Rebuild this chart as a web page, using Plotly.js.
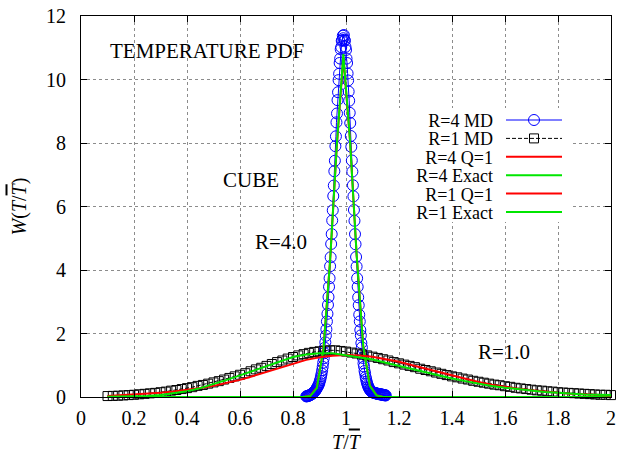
<!DOCTYPE html>
<html>
<head>
<meta charset="utf-8">
<script src="https://cdn.plot.ly/plotly-3.0.1.min.js"></script>
<style>
  html, body { margin: 0; padding: 0; background: #fff; }
  #chart text { font-family: 'Liberation Serif', 'Times New Roman', serif !important; }
</style>
</head>
<body>
<div id="chart"></div>
<script>
// ---------------- data ----------------
// R=4 MD (blue open circles)
const r4mdX = [
  0.850,0.852,0.854,0.856,0.858,0.860,0.862,0.864,0.866,0.868,
  0.870,0.872,0.874,0.876,0.878,0.880,0.882,0.884,0.886,0.888,
  0.890,0.892,0.894,0.896,0.898,0.900,0.902,0.904,0.906,0.908,
  0.910,0.912,0.914,0.916,0.918,0.920,0.922,0.924,0.926,0.928,
  0.930,0.932,0.934,0.936,0.938,0.940,0.942,0.944,0.946,0.948,
  0.950,0.952,0.954,0.956,0.958,0.960,0.962,0.964,0.966,0.968,
  0.970,0.972,0.974,0.976,0.978,0.980,0.982,0.984,0.986,0.988,
  0.990,0.992,0.994,0.996,0.998,1.000,1.002,1.004,1.006,1.008,
  1.010,1.012,1.014,1.016,1.018,1.020,1.022,1.024,1.026,1.028,
  1.030,1.032,1.034,1.036,1.038,1.040,1.042,1.044,1.046,1.048,
  1.050,1.052,1.054,1.056,1.058,1.060,1.062,1.064,1.066,1.068,
  1.070,1.072,1.074,1.076,1.078,1.080,1.082,1.084,1.086,1.088,
  1.090,1.092,1.094,1.096,1.098,1.100,1.102,1.104,1.106,1.108,
  1.110,1.112,1.114,1.116,1.118,1.120,1.122,1.124,1.126,1.128,
  1.130,1.132,1.134,1.136,1.138,1.140,1.142,1.144,1.146,1.148,
  1.150
];
const r4mdY = [
  0.02,0.02,0.03,0.03,0.04,0.04,0.05,0.06,0.07,0.08,
  0.09,0.10,0.11,0.13,0.14,0.16,0.18,0.20,0.22,0.25,
  0.28,0.31,0.34,0.37,0.41,0.46,0.52,0.58,0.66,0.74,
  0.84,0.95,1.08,1.22,1.38,1.55,1.72,1.93,2.13,2.38,
  2.62,2.90,3.15,3.47,3.74,4.12,4.40,4.82,5.13,5.56,
  5.88,6.33,6.66,7.11,7.44,7.90,8.21,8.65,8.93,9.35,
  9.60,9.98,10.18,10.52,10.66,10.95,11.02,11.22,11.24,11.38,
  11.30,11.40,11.25,11.22,11.03,10.93,10.66,10.52,10.19,9.97,
  9.62,9.33,8.95,8.63,8.22,7.88,7.45,7.10,6.67,6.32,
  5.89,5.55,5.13,4.81,4.41,4.11,3.74,3.47,3.14,2.89,
  2.59,2.38,2.11,1.94,1.70,1.56,1.36,1.23,1.06,0.96,
  0.82,0.74,0.63,0.56,0.48,0.43,0.37,0.33,0.29,0.26,
  0.23,0.21,0.19,0.17,0.16,0.15,0.14,0.14,0.13,0.13,
  0.12,0.12,0.11,0.11,0.10,0.10,0.10,0.09,0.09,0.09,
  0.08,0.08,0.08,0.07,0.07,0.07,0.06,0.06,0.06,0.05,
  0.05
];

// R=1 MD (black open squares)
const r1mdX = [
  0.10,0.12,0.14,0.16,0.18,0.20,0.22,0.24,0.26,0.28,
  0.30,0.32,0.34,0.36,0.38,0.40,0.42,0.44,0.46,0.48,
  0.50,0.52,0.54,0.56,0.58,0.60,0.62,0.64,0.66,0.68,
  0.70,0.72,0.74,0.76,0.78,0.80,0.82,0.84,0.86,0.88,
  0.90,0.92,0.94,0.96,0.98,1.00,1.02,1.04,1.06,1.08,
  1.10,1.12,1.14,1.16,1.18,1.20,1.22,1.24,1.26,1.28,
  1.30,1.32,1.34,1.36,1.38,1.40,1.42,1.44,1.46,1.48,
  1.50,1.52,1.54,1.56,1.58,1.60,1.62,1.64,1.66,1.68,
  1.70,1.72,1.74,1.76,1.78,1.80,1.82,1.84,1.86,1.88,
  1.90,1.92,1.94,1.96,1.98,2.00
];
const r1mdY = [
  0.03,0.035,0.04,0.05,0.06,0.07,0.085,0.10,0.115,0.13,
  0.15,0.17,0.20,0.22,0.25,0.28,0.31,0.35,0.38,0.42,
  0.46,0.50,0.55,0.60,0.65,0.70,0.75,0.81,0.87,0.92,
  0.98,1.04,1.10,1.15,1.21,1.26,1.31,1.35,1.39,1.42,
  1.44,1.46,1.47,1.47,1.45,1.43,1.40,1.37,1.34,1.31,
  1.27,1.23,1.19,1.15,1.10,1.06,1.02,0.98,0.94,0.89,
  0.85,0.81,0.77,0.73,0.69,0.65,0.62,0.58,0.55,0.51,
  0.48,0.45,0.42,0.39,0.37,0.34,0.32,0.29,0.27,0.25,
  0.23,0.21,0.20,0.18,0.17,0.15,0.14,0.13,0.12,0.11,
  0.10,0.09,0.08,0.07,0.07,0.06
];

// R=4 theory curves (coarsely sampled, as drawn)
const r4thX      = [0.10, 0.84, 0.865, 0.89, 0.915, 0.94, 0.965, 0.99, 1.015, 1.04, 1.065, 1.09, 1.115, 1.14, 2.00];
const r4ExactY   = [0.00, 0.00, 0.03,  0.28, 1.50,  4.30, 7.90,  10.80, 8.10, 4.50, 1.60,  0.35, 0.05,  0.00, 0.00];
const r4Q1Y      = [0.00, 0.00, 0.04,  0.30, 1.55,  4.30, 7.85,  10.70, 8.10, 4.50, 1.62,  0.37, 0.06,  0.00, 0.00];

// R=1 theory curves
const r1thX = [
  0.10,0.15,0.20,0.25,0.30,0.35,0.40,0.45,0.50,0.55,
  0.60,0.65,0.70,0.75,0.80,0.85,0.90,0.95,1.00,1.05,
  1.10,1.15,1.20,1.25,1.30,1.35,1.40,1.45,1.50,1.55,
  1.60,1.65,1.70,1.75,1.80,1.85,1.90,1.95,2.00
];
const r1ExactY = [
  0.005,0.01,0.02,0.035,0.06,0.11,0.18,0.28,0.40,0.54,
  0.68,0.83,0.98,1.13,1.26,1.34,1.38,1.38,1.32,1.26,
  1.18,1.08,0.98,0.87,0.77,0.67,0.58,0.50,0.42,0.35,
  0.29,0.24,0.19,0.16,0.13,0.10,0.08,0.07,0.06
];
const r1Q1Y = [
  0.03,0.05,0.07,0.10,0.13,0.17,0.22,0.28,0.35,0.44,
  0.54,0.66,0.79,0.93,1.06,1.17,1.25,1.30,1.32,1.31,
  1.27,1.20,1.11,1.00,0.89,0.78,0.67,0.57,0.47,0.39,
  0.32,0.26,0.21,0.16,0.13,0.10,0.08,0.06,0.05
];

const legendNames = ['R=4 MD', 'R=1 MD', 'R=4 Q=1', 'R=4 Exact', 'R=1 Q=1', 'R=1 Exact'];
const textLabels  = ['TEMPERATURE PDF', 'CUBE', 'R=4.0', 'R=1.0'];
const labelX      = [0.10, 0.53, 0.65, 1.49];
const labelY      = [10.9, 6.83, 4.88, 1.43];

// ---------------- chart ----------------
const SERIF = 'Liberation Serif';
const RED = '#ff0000', GREEN = '#00e600';

const traces = [
  { x: r4mdX, y: r4mdY, name: legendNames[0], type: 'scatter', mode: 'lines+markers',
    line: { color: '#0000ff', width: 1 },
    marker: { symbol: 'circle-open', size: 11, color: '#0000ff', line: { width: 1, color: '#0000ff' } },
    cliponaxis: false },
  { x: r1mdX, y: r1mdY, name: legendNames[1], type: 'scatter', mode: 'lines+markers',
    line: { color: '#000000', width: 1, dash: '4px,2px' },
    marker: { symbol: 'square-open', size: 9, color: '#000000', line: { width: 1, color: '#000000' } },
    cliponaxis: false },
  { x: r4thX, y: r4Q1Y, name: legendNames[2], type: 'scatter', mode: 'lines',
    line: { color: RED, width: 2 }, cliponaxis: false },
  { x: r4thX, y: r4ExactY, name: legendNames[3], type: 'scatter', mode: 'lines',
    line: { color: GREEN, width: 2 }, cliponaxis: false },
  { x: r1thX, y: r1Q1Y, name: legendNames[4], type: 'scatter', mode: 'lines',
    line: { color: RED, width: 2 }, cliponaxis: false },
  { x: r1thX, y: r1ExactY, name: legendNames[5], type: 'scatter', mode: 'lines',
    line: { color: GREEN, width: 2 }, cliponaxis: false }
];

const axisCommon = {
  ticks: 'inside', ticklen: 6, tickwidth: 1, tickcolor: '#000',
  showline: true, linecolor: '#000', linewidth: 1, mirror: 'ticks',
  showgrid: true, gridcolor: '#8c8c8c', gridwidth: 1, griddash: 'dot',
  zeroline: false, automargin: false,
  tickfont: { family: SERIF, size: 20, color: '#000' }
};

const layout = {
  width: 618, height: 456,
  margin: { l: 81, r: 7, t: 16, b: 59 },
  paper_bgcolor: '#fff', plot_bgcolor: '#fff',
  font: { family: SERIF, size: 20, color: '#000' },
  showlegend: true,
  legend: { x: 0.6, y: 0.78, xanchor: 'left', yanchor: 'top', bgcolor: '#fff',
            borderwidth: 0, font: { family: SERIF, size: 18, color: '#000' },
            traceorder: 'normal' },
  xaxis: Object.assign({}, axisCommon, {
    range: [0, 2], tick0: 0, dtick: 0.2, ticklabelstandoff: 3,
    title: { text: "<i>T</i>/<i><span style='text-decoration:overline'>T</span></i>",
             font: { family: SERIF, size: 20, color: '#000' }, standoff: 6 }
  }),
  yaxis: Object.assign({}, axisCommon, {
    range: [0, 12], tick0: 0, dtick: 2, ticklabelstandoff: 10,
    title: { text: "<i>W</i>(<i>T</i>/<i><span style='text-decoration:overline'>T</span></i>)",
             font: { family: SERIF, size: 20, color: '#000' }, standoff: 14 }
  }),
  annotations: textLabels.map((t, i) => ({
    x: labelX[i], y: labelY[i], xref: 'x', yref: 'y', text: t, showarrow: false,
    xanchor: 'left', yanchor: 'middle', font: { family: SERIF, size: 21, color: '#000' }
  }))
};

const gd = document.getElementById('chart');
Plotly.newPlot(gd, traces, layout, { staticPlot: true, displayModeBar: false }).then(fixLegend);

// gnuplot-style key: label right-aligned, sample to the right of it
function fixLegend() {
  try {
    const TEXT_RIGHT = 493, ROW0 = 120, ROW_H = 18.4, LX0 = 506, LX1 = 562;
    const leg = gd.querySelector('g.legend');
    if (!leg) return;
    leg.setAttribute('transform', 'translate(0,0)');
    leg.querySelectorAll('[clip-path]').forEach(el => el.removeAttribute('clip-path'));
    const sb = leg.querySelector('g.scrollbox');
    if (sb) sb.setAttribute('transform', 'translate(0,0)');
    const items = leg.querySelectorAll('g.traces');
    items.forEach((it, i) => {
      it.setAttribute('transform', 'translate(0,' + (ROW0 + i * ROW_H) + ')');
      const txt = it.querySelector('text.legendtext');
      if (txt) { txt.setAttribute('x', TEXT_RIGHT); txt.setAttribute('text-anchor', 'end'); }
      const layers = it.querySelector('g.layers');
      if (layers) layers.setAttribute('transform', 'translate(' + (LX0 - 5) + ',0)');
      it.querySelectorAll('g.legendlines path').forEach(p => p.setAttribute('d', 'M5,0h' + (LX1 - LX0)));
      it.querySelectorAll('g.legendpoints path').forEach(p =>
        p.setAttribute('transform', 'translate(' + (5 + (LX1 - LX0) / 2) + ',0)'));
      const tog = it.querySelector('rect.legendtoggle');
      if (tog) tog.remove();
    });
    const bg = leg.querySelector('rect.bg');
    if (bg) {
      bg.setAttribute('x', 398); bg.setAttribute('y', 108);
      bg.setAttribute('width', 173); bg.setAttribute('height', 114);
      bg.style.fill = '#fff'; bg.style.strokeWidth = '0px';
    }
  } catch (e) { console.error(e); }
}
</script>
</body>
</html>
